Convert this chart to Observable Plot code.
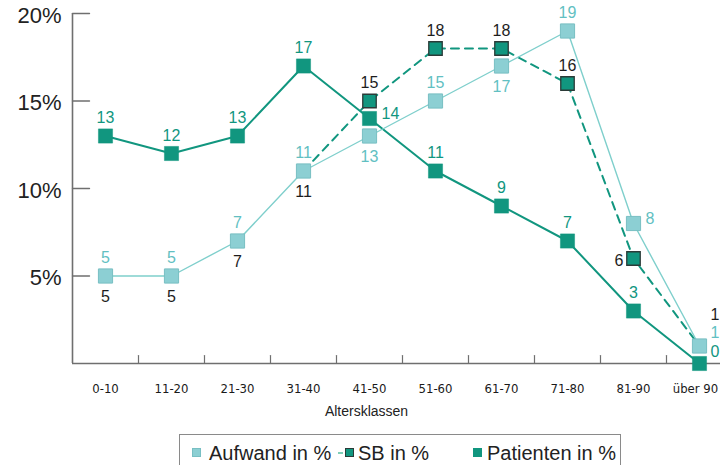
<!DOCTYPE html>
<html>
<head>
<meta charset="utf-8">
<script src="https://cdn.jsdelivr.net/npm/d3@7"></script>
<script src="https://cdn.jsdelivr.net/npm/@observablehq/plot@0.6"></script>
<style>
  html, body { margin: 0; padding: 0; background: #fff; }
  body { width: 720px; height: 465px; overflow: hidden; position: relative; font-family: "Liberation Sans", Arial, sans-serif; }
  #legend { position: absolute; left: 179px; top: 434px; width: 442px; height: 40px; border: 1.5px solid #8a8a8a; box-sizing: border-box; }
  #legend .sw { position: absolute; width: 9px; height: 9px; box-sizing: border-box; }
  #legend .tx { position: absolute; font-size: 20px; line-height: 20px; color: #222; white-space: nowrap; }
  #legend .dash { position: absolute; width: 5px; height: 2px; }
</style>
</head>
<body>
<div id="chart"></div>
<div id="legend"></div>
<script>
// ---- data ----
const categories = ["0-10", "11-20", "21-30", "31-40", "41-50", "51-60", "61-70", "71-80", "81-90", "über 90"];
const aufwand   = [5, 5, 7, 11, 13, 15, 17, 19, 8, 1];
const sb        = [5, 5, 7, 11, 15, 18, 18, 16, 6, 1];
const patienten = [13, 12, 13, 17, 14, 11, 9, 7, 3, 0];
const yTicks = [5, 10, 15, 20];
const seriesNames = ["Aufwand in %", "SB in %", "Patienten in %"];
const xTitle = "Altersklassen";

// ---- styles ----
const TEAL = "#11967f";
const LIGHT = "#8ccfd3";
const LIGHT_EDGE = "#78bfc3";
const LIGHT_TXT = "#62bfc2";
const AXIS = "#6f6f6f";
const CONDENSED = "'DejaVu Sans Condensed', 'Liberation Sans Narrow', 'DejaVu Sans', sans-serif";

const rows = vals => vals.map((v, i) => ({i, v}));
const aufRows = rows(aufwand);
const sbRows = rows(sb);
const patRows = rows(patienten);
const catRows = categories.map((c, i) => ({i, c}));
const lastIdx = categories.length - 1;
const differs = i => i >= 0 && i < sb.length && sb[i] !== aufwand[i];
const sbLineRows = sbRows.filter(d => differs(d.i) || differs(d.i - 1) || differs(d.i + 1));
const sbDotRows = sbRows.filter(d => differs(d.i));

// label placement (style, by index)
const placeAuf = {4: "below", 6: "below", 8: "right", 9: "rightUp"};
const placeSB  = {0: "below", 1: "below", 2: "below", 3: "below", 8: "left", 9: "rightUp2"};
const placePat = {4: "right", 9: "right0"};
const offsets = {
  above:   {dx: 0,   dy: -18, anchor: "middle"},
  below:   {dx: 0,   dy: 21,  anchor: "middle"},
  right:   {dx: 12,  dy: -5,  anchor: "start"},
  left:    {dx: -10, dy: 2,   anchor: "end"},
  rightUp: {dx: 11,  dy: -13, anchor: "start"},
  rightUp2:{dx: 11,  dy: -31, anchor: "start"},
  right0:  {dx: 11,  dy: -12, anchor: "start"}
};
function labelMarks(data, place, fill) {
  const groups = {};
  data.forEach(d => {
    const p = place[d.i] || "above";
    (groups[p] = groups[p] || []).push(d);
  });
  return Object.entries(groups).map(([p, ds]) => {
    const o = offsets[p];
    return Plot.text(ds, {x: "i", y: "v", text: d => String(d.v), dx: o.dx, dy: o.dy,
      textAnchor: o.anchor, fill, fontSize: 16});
  });
}
const tickShape = {draw(ctx, l) { ctx.moveTo(0, 0); ctx.lineTo(0, -l); }};
const catLabel = (data, dx) => Plot.text(data, {x: "i", y: 0, text: "c", dx, dy: 25, fontSize: 13, fill: "#1a1a1a", fontFamily: CONDENSED});

const chart = Plot.plot({
  width: 720,
  height: 432,
  margin: 0,
  style: {fontFamily: "'Liberation Sans', Arial, sans-serif", background: "transparent", overflow: "hidden"},
  x: {type: "linear", domain: [-0.5, categories.length - 0.5], range: [72, 732], axis: null},
  y: {domain: [0, 20], range: [363, 13], axis: null},
  marks: [
    Plot.ruleX([-0.5], {y1: 0, y2: 20, stroke: AXIS, strokeWidth: 1.6}),
    Plot.ruleY([0], {x1: -0.5, x2: categories.length - 0.5, stroke: AXIS, strokeWidth: 1.6}),
    Plot.vector(yTicks, {x: -0.5, y: d => d, length: 17, rotate: 90, anchor: "start", shape: tickShape, stroke: AXIS, strokeWidth: 1.4}),
    Plot.vector(categories.slice(1), {x: (d, i) => i + 0.5, y: 0, length: 8, rotate: 0, anchor: "start", shape: tickShape, stroke: AXIS, strokeWidth: 1.2}),
    Plot.text(yTicks, {x: -0.5, y: d => d, text: d => d + "%", textAnchor: "end", dx: -11, dy: 2, fontSize: 22, fill: "#222"}),
    catLabel(catRows.filter(d => d.i < lastIdx), 0),
    catLabel(catRows.filter(d => d.i === lastIdx), -4),
    Plot.text([xTitle], {x: (categories.length - 1) / 2, y: 0, dx: -36, dy: 48, fontSize: 14, fill: "#222"}),
    // lines
    Plot.line(patRows, {x: "i", y: "v", stroke: TEAL, strokeWidth: 2}),
    Plot.line(sbLineRows, {x: "i", y: "v", stroke: TEAL, strokeWidth: 2, strokeDasharray: "8,6"}),
    Plot.line(aufRows, {x: "i", y: "v", stroke: "#7fcfcc", strokeWidth: 1.4}),
    // markers
    Plot.dot(patRows, {x: "i", y: "v", symbol: "square", r: 8, fill: TEAL, stroke: TEAL, strokeWidth: 0.5}),
    Plot.dot(sbDotRows, {x: "i", y: "v", symbol: "square", r: 7.6, fill: TEAL, stroke: "#2b3b38", strokeWidth: 1.3}),
    Plot.dot(aufRows, {x: "i", y: "v", symbol: "square", r: 8, fill: LIGHT, stroke: LIGHT_EDGE, strokeWidth: 1}),
    // labels
    ...labelMarks(aufRows, placeAuf, LIGHT_TXT),
    ...labelMarks(sbRows, placeSB, "#1d1d1d"),
    ...labelMarks(patRows, placePat, TEAL)
  ]
});
chart.querySelectorAll('g[font-family*="Condensed"]').forEach(g => { g.style.fontStretch = "condensed"; });
document.getElementById("chart").appendChild(chart);

// legend
const lg = document.getElementById("legend");
const items = [
  {sw: 12, tx: 29, fill: LIGHT, edge: LIGHT_EDGE, dash: null},
  {sw: 165, tx: 178, fill: TEAL, edge: "#2b3b38", dash: 158},
  {sw: 293, tx: 307, fill: TEAL, edge: TEAL, dash: null}
];
items.forEach((it, k) => {
  if (it.dash !== null) {
    const d = document.createElement("div");
    d.className = "dash";
    d.style.left = it.dash + "px"; d.style.top = "17px"; d.style.background = "#7fcfb8";
    lg.appendChild(d);
  }
  const s = document.createElement("div");
  s.className = "sw";
  s.style.left = it.sw + "px"; s.style.top = "13px";
  s.style.background = it.fill; s.style.border = "1px solid " + it.edge;
  lg.appendChild(s);
  const t = document.createElement("div");
  t.className = "tx";
  t.style.left = it.tx + "px"; t.style.top = "8px";
  t.textContent = seriesNames[k];
  lg.appendChild(t);
});
</script>
</body>
</html>
